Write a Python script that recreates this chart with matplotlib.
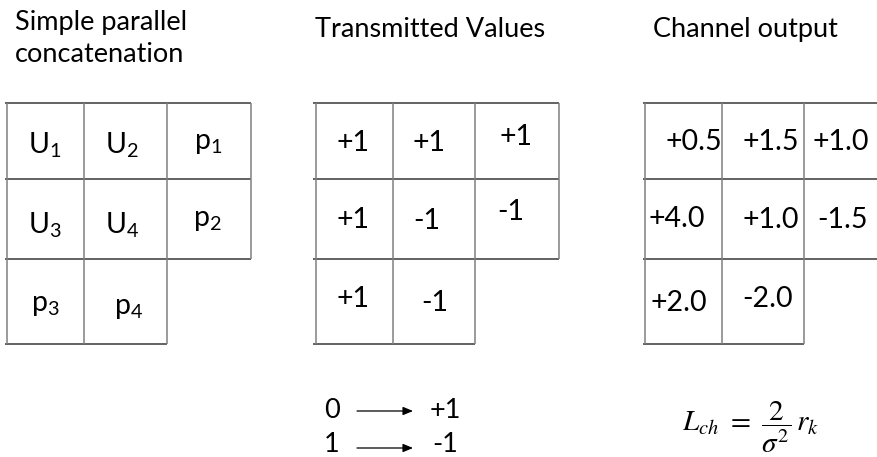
import matplotlib
matplotlib.use('Agg')
import matplotlib.pyplot as plt

# cell contents of the three tables (last row only has two cells)
code_bits = [['U1', 'U2', 'p1'], ['U3', 'U4', 'p2'], ['p3', 'p4']]
transmitted = [['+1', '+1', '+1'], ['+1', '-1', '-1'], ['+1', '-1']]
channel_out = [['+0.5', '+1.5', '+1.0'], ['+4.0', '+1.0', '-1.5'], ['+2.0', '-2.0']]

# BPSK mapping shown under the middle table
map_bits = ['0', '1']
map_symbols = ['+1', '-1']

titles = ['Simple parallel', 'concatenation', 'Transmitted Values', 'Channel output']

plt.rcParams['font.family'] = ['Lato', 'DejaVu Sans']

fig = plt.figure(figsize=(8.78, 4.57), dpi=100)
ax = fig.add_axes([0, 0, 1, 1])
ax.set_xlim(0, 878)
ax.set_ylim(457, 0)
ax.axis('off')

# ---- layout (pixel coords) ----
row_y = [103, 179, 259, 344]
grid_x = [[7, 84, 167, 251], [316, 393, 475, 559], [645, 722, 804, 880]]
hline_start = [5, 313, 643]
hcol = '#383838'
vcol = '#808080'
lw = 1.1

# text anchor per cell (x center, baseline)
pos = [
    [[(45, 153), (122, 153), (208, 149)], [(45, 233), (122, 233), (207, 226)], [(45, 311), (129, 314)]],
    [[(353, 151), (429, 151), (516, 145)], [(353, 228), (427, 229), (511, 220)], [(353, 307), (435, 311)]],
    [[(694, 150), (771, 150), (841, 150)], [(677, 227), (771, 228), (843, 228)], [(679, 311), (768, 307)]],
]

for g, xs in enumerate(grid_x):
    x0 = hline_start[g]
    # horizontal lines: first three span 3 cols, bottom one spans 2
    for r in range(3):
        ax.plot([x0, xs[3]], [row_y[r], row_y[r]], color=hcol, lw=lw, solid_capstyle='butt')
    ax.plot([x0, xs[2]], [row_y[3], row_y[3]], color=hcol, lw=lw, solid_capstyle='butt')
    # vertical lines
    for c in range(3):
        ax.plot([xs[c], xs[c]], [row_y[0], row_y[3]], color=vcol, lw=lw, solid_capstyle='butt')
    ax.plot([xs[3], xs[3]], [row_y[0], row_y[2]], color=vcol, lw=lw, solid_capstyle='butt')

tables = [code_bits, transmitted, channel_out]
for g, table in enumerate(tables):
    for r, row in enumerate(table):
        for c, lab in enumerate(row):
            if g == 0:
                lab = lab[0] + r'$_\mathregular{' + lab[1:] + '}$'
            x, y = pos[g][r][c]
            ax.text(x, y, lab, fontsize=20.5, ha='center', va='baseline', color='black')

# titles
ax.text(15, 30, titles[0], fontsize=19.5, ha='left', va='baseline')
ax.text(15, 62, titles[1], fontsize=19.5, ha='left', va='baseline')
ax.text(315, 37, titles[2], fontsize=19.5, ha='left', va='baseline')
ax.text(653, 37, titles[3], fontsize=19.5, ha='left', va='baseline')

# mapping 0 -> +1, 1 -> -1
map_y = [410, 444]
arrow_y = [411, 448]
for i in range(2):
    ax.text(332, map_y[i], map_bits[i], fontsize=19.5, ha='center', va='center')
    ax.text(445, map_y[i], map_symbols[i], fontsize=19.5, ha='center', va='center')
    ax.annotate('', xy=(413, arrow_y[i]), xytext=(357, arrow_y[i]),
                arrowprops=dict(arrowstyle='-|>,head_length=0.6,head_width=0.25',
                                color='black', lw=0.9, shrinkA=0, shrinkB=0))

# channel LLR formula
ax.text(751, 427, r'$L_{ch}\ =\ \dfrac{2}{\sigma^2}\,r_k$', fontsize=21,
        math_fontfamily='stix', ha='center', va='center')

fig.savefig('out.png', dpi=100)
